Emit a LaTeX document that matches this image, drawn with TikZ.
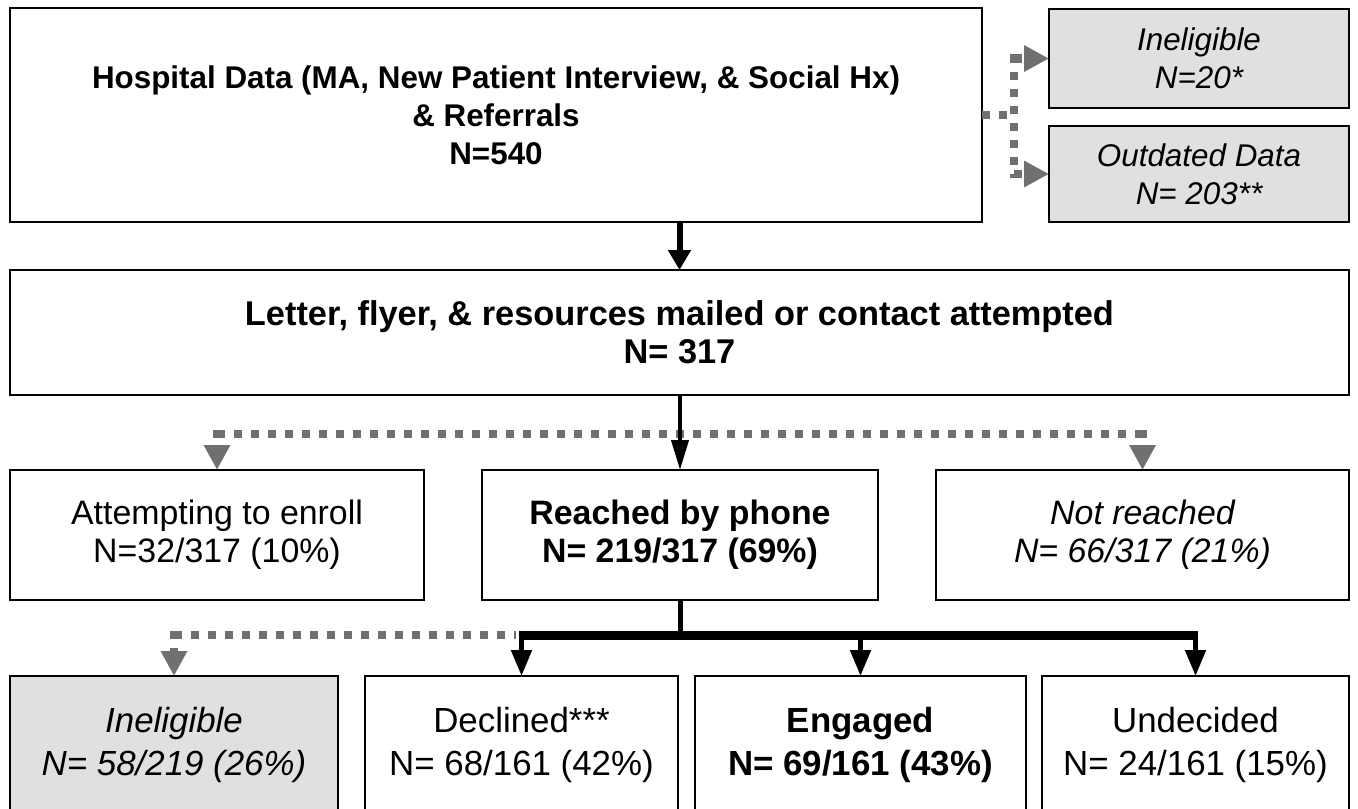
\documentclass[tikz,border=0pt]{standalone}
\usepackage{fontspec}
\setmainfont{Liberation Sans}
\usetikzlibrary{arrows.meta,calc}
\definecolor{boxgray}{HTML}{E0E0E0}
\definecolor{dotgray}{HTML}{707070}
\begin{document}
\begin{tikzpicture}[x=1bp,y=-1bp,
  box/.style={draw=black, line width=2.5bp, align=center, inner sep=0pt, outer sep=0pt, anchor=center},
  graybox/.style={box, fill=boxgray},
  fA/.style={font=\fontsize{31.5}{38}\selectfont},
  fL/.style={font=\fontsize{34.5}{38}\selectfont},
  fB/.style={font=\fontsize{34}{38}\selectfont},
  fC/.style={font=\fontsize{35}{43}\selectfont},
  dotline/.style={draw=dotgray, line width=8bp, dash pattern=on 8bp off 9bp},
  dotarrow/.style={dotline, -{Triangle[length=25bp,width=25bp,fill=dotgray]}},
  dotarrowv/.style={dotline, -{Triangle[length=25bp,width=25bp,fill=dotgray]}},
  bigarrow/.style={draw=black, line width=6bp, -{Triangle[length=20bp,width=22bp]}},
  midarrow/.style={draw=black, line width=4bp, -{Triangle[length=30bp,width=17bp]}},
  lowarrow/.style={draw=black, line width=5bp, -{Triangle[length=26bp,width=20bp]}}
]
\useasboundingbox (0,0) rectangle (1358,808);
% boxes
\node[box, fA, minimum width=972bp, minimum height=214bp] (hosp) at (496,115)
  {\bfseries Hospital Data (MA, New Patient Interview, \& Social Hx)\\ \bfseries \& Referrals\\ \bfseries N=540};
\node[graybox, fA, minimum width=300bp, minimum height=99bp] (inel1) at (1199,58.5)
  {\itshape Ineligible\\ \itshape N=20*};
\node[graybox, fA, minimum width=300bp, minimum height=96bp] (outd) at (1199,174)
  {\itshape Outdated Data\\ \itshape N= 203**};
\node[box, fL, minimum width=1339bp, minimum height=125bp] (letter) at (679.5,332.5)
  {\bfseries Letter, flyer, \& resources mailed or contact attempted\\ \bfseries N= 317};
\node[box, fB, minimum width=414bp, minimum height=130bp] (attempt) at (217,535)
  {Attempting to enroll\\ N=32/317 (10\%)};
\node[box, fB, minimum width=396bp, minimum height=130bp] (reached) at (680,535)
  {\bfseries Reached by phone\\ \bfseries N= 219/317 (69\%)};
\node[box, fB, minimum width=413bp, minimum height=130bp] (notr) at (1142.5,535)
  {\itshape Not reached\\ \itshape N= 66/317 (21\%)};
\node[graybox, fC, minimum width=328bp, minimum height=138bp] (inel2) at (174,745)
  {\itshape Ineligible\\ \itshape N= 58/219 (26\%)};
\node[box, fC, minimum width=313bp, minimum height=138bp] (decl) at (521.5,745)
  {Declined***\\ N= 68/161 (42\%)};
\node[box, fC, minimum width=331bp, minimum height=138bp] (eng) at (860.5,745)
  {\bfseries Engaged\\ \bfseries N= 69/161 (43\%)};
\node[box, fC, minimum width=307bp, minimum height=138bp] (und) at (1195.5,745)
  {Undecided\\ N= 24/161 (15\%)};
% top: hospital -> letter
\draw[bigarrow] (letter.north |- hosp.south) -- (letter.north);
% top right dotted branches
\path (hosp.east) ++(32,0) coordinate (tr);
\draw[dotline] (hosp.east) -- (tr);
\draw[dotline] ($(tr |- inel1.west)+(0,-4)$) -- ($(tr |- outd.west)+(0,4)$);
\draw[dotarrow] (tr |- inel1.west) -- (inel1.west);
\draw[dotarrow] (tr |- outd.west) -- (outd.west);
% middle branch
\coordinate (mj) at ($(reached.north)+(0,-36)$);
\draw[dotline] (attempt.north |- mj) -- (notr.north |- mj);
\draw[dotarrowv] ($(attempt.north |- mj)+(0,-4)$) -- (attempt.north);
\draw[dotarrowv] ($(notr.north |- mj)+(0,-4)$) -- (notr.north);
\draw[midarrow] (letter.south -| reached.north) -- (reached.north);
% bottom branch
\coordinate (bj) at ($(reached.south)+(0,35)$);
\draw[dotline] (inel2.north |- bj) -- ($(decl.north |- bj)+(-6,0)$);
\draw[dotarrowv] ($(inel2.north |- bj)+(0,-4)$) -- (inel2.north);
\draw[draw=black, line width=5bp] (reached.south) -- (bj);
\draw[draw=black, line width=9bp] ($(decl.north |- bj)+(-2.5,0)$) -- ($(und.north |- bj)+(2.5,0)$);
\draw[lowarrow] ($(decl.north |- bj)+(0,-4)$) -- (decl.north);
\draw[lowarrow] ($(eng.north |- bj)+(0,-4)$) -- (eng.north);
\draw[lowarrow] ($(und.north |- bj)+(0,-4)$) -- (und.north);
\end{tikzpicture}
\end{document}
